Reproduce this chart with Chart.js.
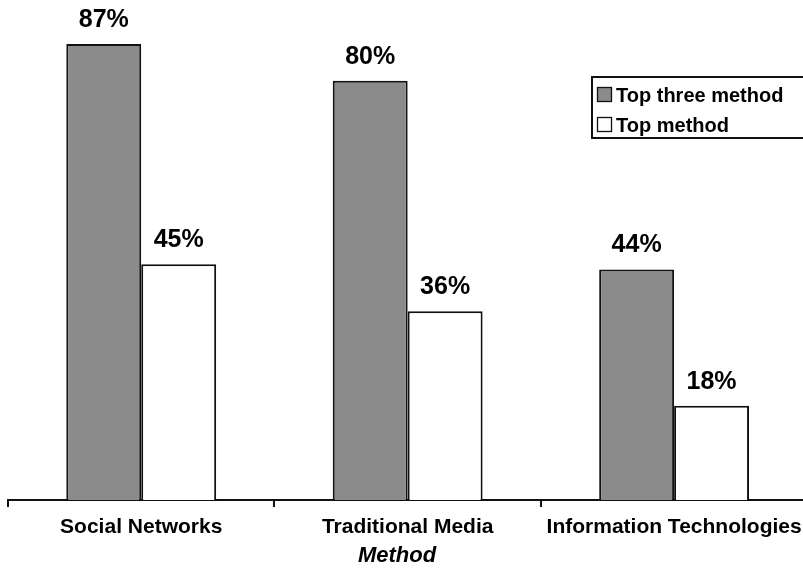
<!DOCTYPE html>
<html>
<head>
<meta charset="utf-8">
<script src="https://cdn.jsdelivr.net/npm/chart.js@4/dist/chart.umd.min.js"></script>
<style>
  html, body { margin: 0; padding: 0; background: #fff; overflow: hidden; }
  #wrap { width: 810px; height: 568px; }
</style>
</head>
<body>
<div id="wrap"><canvas id="c" width="810" height="568"></canvas></div>
<script>
const categories = ['Social Networks', 'Traditional Media', 'Information Technologies'];
const seriesNames = ['Top three method', 'Top method'];
const topThree = [87, 80, 44];
const topOne = [45, 36, 18];
const axisTitle = 'Method';

const FONT = '"Liberation Sans", Arial, sans-serif';
const fills = ['#8b8b8b', '#ffffff'];

const overlay = {
  id: 'overlay',
  afterDatasetsDraw(chart) {
    const ctx = chart.ctx;
    ctx.save();
    ctx.font = 'bold 25px ' + FONT;
    ctx.fillStyle = '#000';
    ctx.textAlign = 'center';
    ctx.textBaseline = 'alphabetic';
    chart.data.datasets.forEach((ds, i) => {
      const meta = chart.getDatasetMeta(i);
      meta.data.forEach((el, j) => {
        ctx.fillText(ds.data[j] + '%', el.x, el.y - 17);
      });
    });
    ctx.font = 'italic bold 22px ' + FONT;
    ctx.fillText(axisTitle, 397, 562);
    ctx.lineWidth = 2;
    ctx.strokeStyle = '#111';
    ctx.fillStyle = '#fff';
    ctx.fillRect(592, 77, 230, 61);
    ctx.strokeRect(592, 77, 230, 61);
    ctx.font = 'bold 20px ' + FONT;
    ctx.textAlign = 'left';
    ctx.textBaseline = 'middle';
    seriesNames.forEach((name, i) => {
      const y = 95 + i * 30;
      ctx.fillStyle = fills[i];
      ctx.fillRect(597.5, y - 7.5, 14, 14);
      ctx.lineWidth = 1.3;
      ctx.strokeRect(597.5, y - 7.5, 14, 14);
      ctx.fillStyle = '#000';
      ctx.fillText(name, 616, y + 1);
    });
    ctx.restore();
  }
};

new Chart(document.getElementById('c'), {
  type: 'bar',
  data: {
    labels: categories,
    datasets: [
      { label: seriesNames[0], data: topThree, backgroundColor: fills[0], borderColor: '#111', borderWidth: 2 },
      { label: seriesNames[1], data: topOne, backgroundColor: fills[1], borderColor: '#111', borderWidth: 2 }
    ]
  },
  options: {
    responsive: false,
    animation: false,
    devicePixelRatio: 1,
    layout: { padding: { left: 8, right: 2, top: 0, bottom: 0 } },
    datasets: { bar: { categoryPercentage: 0.5625, barPercentage: 1 } },
    plugins: { legend: { display: false }, tooltip: { enabled: false } },
    scales: {
      y: { display: false, min: 0, max: 95.4 },
      x: {
        afterFit(scale) { scale.height = 68; },
        border: { display: true, color: '#111', width: 2 },
        grid: { display: true, offset: true, drawOnChartArea: false, drawTicks: true, tickLength: 7, color: '#111', lineWidth: 2 },
        ticks: { color: '#000', font: { family: FONT, size: 21, weight: 'bold' }, padding: 8, maxRotation: 0, autoSkip: false }
      }
    }
  },
  plugins: [overlay]
});
</script>
</body>
</html>
